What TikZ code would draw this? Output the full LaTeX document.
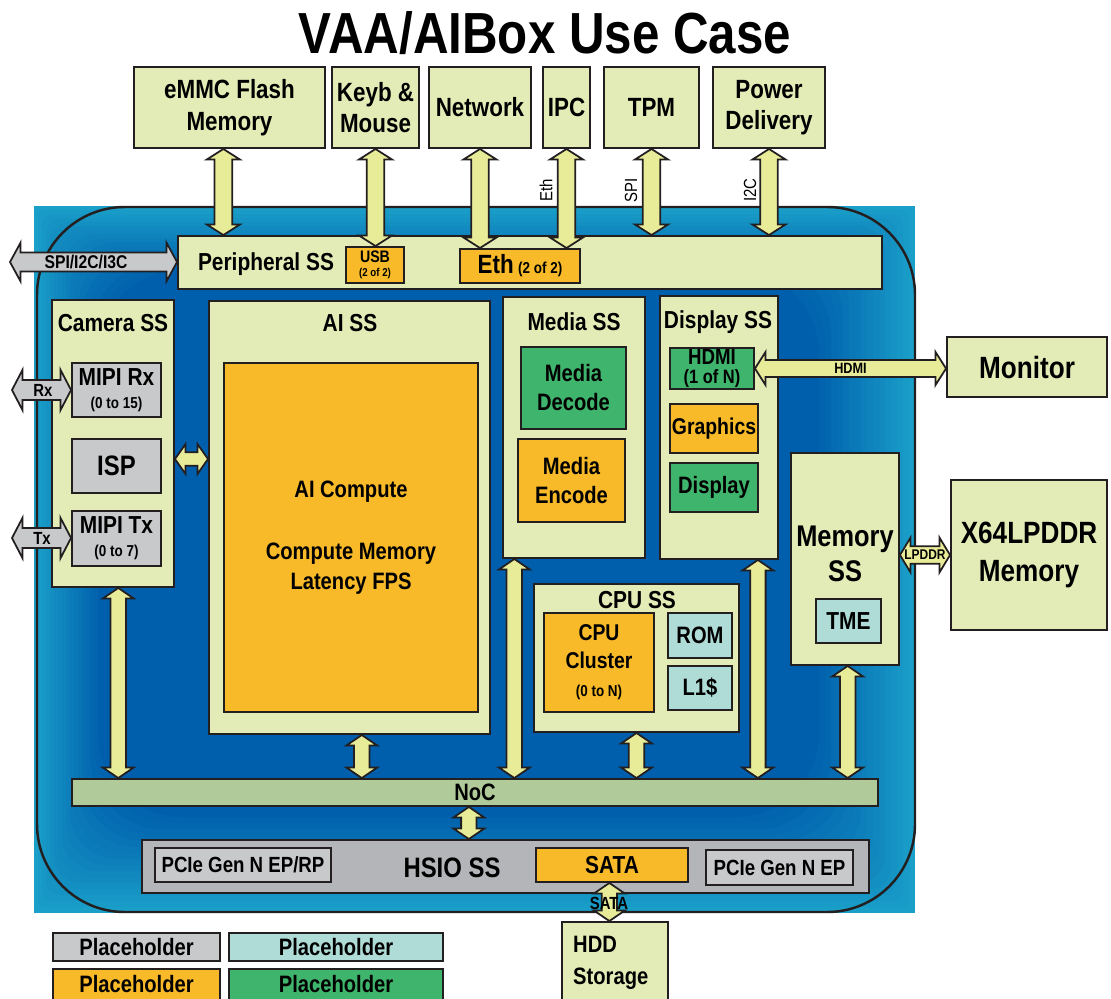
\documentclass[tikz,border=0pt]{standalone}
\usepackage{fontspec}
\setmainfont{Liberation Sans}[FakeStretch=0.85]
\usetikzlibrary{positioning,fit,calc}

\definecolor{boxfill}{HTML}{E3EBB6}
\definecolor{orangefill}{HTML}{F8BA28}
\definecolor{greenfill}{HTML}{3FB46C}
\definecolor{tealfill}{HTML}{AFDCD7}
\definecolor{grayfill}{HTML}{C8C9CB}
\definecolor{hsiofill}{HTML}{B4B5B8}
\definecolor{nocfill}{HTML}{B1CA99}
\definecolor{arrowfill}{HTML}{E8EC98}
\definecolor{edge}{HTML}{231F20}
\definecolor{blueIn}{HTML}{005FAD}
\definecolor{blueOut}{HTML}{1A9FC8}

% fat double arrow: [fill]{from}{to}{shaft half width}{head half width}
\newcommand\fatlink[5][arrowfill]{%
  \path let \p1=(#2), \p2=(#3) in \pgfextra{%
    \pgfmathsetmacro\fatlen{veclen(\x2-\x1,\y2-\y1)}%
    \pgfmathsetmacro\fatang{atan2(\y2-\y1,\x2-\x1)}%
    \xdef\fatlen{\fatlen}\xdef\fatang{\fatang}%
    \xdef\fatx{\x1}\xdef\faty{\y1}};
  \draw[fat, fill=#1, shift={(\fatx,\faty)}, rotate=\fatang]
    (0pt,0pt) -- (6pt,#5) -- (6pt,#4) -- (\fatlen pt-6pt,#4) -- (\fatlen pt-6pt,#5)
    -- (\fatlen pt,0pt) -- (\fatlen pt-6pt,-#5) -- (\fatlen pt-6pt,-#4)
    -- (6pt,-#4) -- (6pt,-#5) -- cycle;
}

\begin{document}
\begin{tikzpicture}[
  x=0.02cm, y=-0.02cm,
  fsz/.style 2 args={font=\bfseries\fontsize{#1}{#2}\selectfont, align=center},
  box/.style={draw=edge, line width=1.1pt, fill=boxfill, inner sep=0pt},
  orangebox/.style={box, fill=orangefill},
  greenbox/.style={box, fill=greenfill},
  tealbox/.style={box, fill=tealfill},
  graybox/.style={box, fill=grayfill},
  fat/.style={draw=edge, line width=1pt, line join=miter},
  arrlbl/.style={fsz={8.5}{9}, inner sep=0pt},
]
\useasboundingbox (0,0) rectangle (1111,998);

% Background (stepped gradient, cyan rim to deep blue)
\foreach \i in {0,...,16} {
  \pgfmathtruncatemacro\mixv{100-\i*100/16}
  \fill[blueOut!\mixv!blueIn, rounded corners=\i*3pt]
    (34+\i*4,206+\i*4) rectangle (915-\i*6,913-\i*6);
}
\draw[edge, line width=1.4pt, rounded corners=50pt] (37,207) rectangle (915,912);

% Title
\node[fsz={33}{33}] (title) at (545,33) {VAA/AIBox Use Case};

% External devices
\node[box, fit={(134,67) (325,148)}, label={[fsz={15}{18}]center:eMMC Flash\\Memory}] (emmc) {};
\node[box, fit={(332,67) (419,148)}, label={[fsz={15}{18}]center:Keyb \&\\Mouse}] (keyb) {};
\node[box, fit={(429,67) (531,148)}, label={[fsz={15}{18}]center:Network}] (net) {};
\node[box, fit={(543,67) (590,148)}, label={[fsz={15}{18}]center:IPC}] (ipc) {};
\node[box, fit={(604,67) (699,148)}, label={[fsz={15}{18}]center:TPM}] (tpm) {};
\node[box, fit={(713,67) (825,148)}, label={[fsz={15}{18}]center:Power\\Delivery}] (power) {};
\node[box, fit={(947,337) (1107,397)}, label={[fsz={17.5}{20}]center:Monitor}] (mon) {};
\node[box, fit={(951,480) (1107,630)}, label={[fsz={17.5}{21.5}]center:X64LPDDR\\Memory}] (x64) {};
\node[box, fit={(562,922) (668,1005)}] (hdd) {};
\node[fsz={13.5}{18.5}, align=left, anchor=west] (hddtxt) at (567,963) {HDD\\Storage};

% Peripheral SS
\node[box, fit={(178,236) (882,289)}] (periph) {};
\node[fsz={14}{14}] (periphlbl) at (266,264) {Peripheral SS};
\node[orangebox, fit={(346,247) (404,283)}, label={[fsz={9.5}{8}]center:USB\\{\fontsize{6.5}{7}\selectfont(2 of 2)}}] (usb) {};
\node[orangebox, fit={(460,249) (580,283)}, label={[fsz={15}{15}]center:Eth\,{\fontsize{9}{9}\selectfont(2 of 2)}}] (eth) {};

% Camera SS
\node[box, fit={(52,300) (174,587)}] (cam) {};
\node[fsz={14}{14}] (camlbl) at (113,323) {Camera SS};
\node[graybox, fit={(72,363) (161,417)}, label={[fsz={14}{13}]center:MIPI Rx\\{\fontsize{9}{9}\selectfont(0 to 15)}}] (mipirx) {};
\node[graybox, fit={(72,439) (161,493)}, label={[fsz={16}{16}]center:ISP}] (isp) {};
\node[graybox, fit={(72,511) (161,566)}, label={[fsz={14}{13}]center:MIPI Tx\\{\fontsize{9}{9}\selectfont(0 to 7)}}] (mipitx) {};

% AI SS
\node[box, fit={(209,301) (490,734)}] (ai) {};
\node[fsz={14}{14}] (ailbl) at (350,323) {AI SS};
\node[orangebox, fit={(224,363) (478,712)}, label={[fsz={13.5}{17}]center:AI Compute\\[18pt]Compute Memory\\Latency FPS}] (aic) {};

% Media SS
\node[box, fit={(503,297) (645,558)}] (media) {};
\node[fsz={14}{14}] (medialbl) at (574,322) {Media SS};
\node[greenbox, fit={(521,347) (626,429)}, label={[fsz={13.5}{16.5}]center:Media\\Decode}] (mdec) {};
\node[orangebox, fit={(518,439) (625,522)}, label={[fsz={13.5}{16.5}]center:Media\\Encode}] (menc) {};

% Display SS
\node[box, fit={(660,296) (778,559)}] (disp) {};
\node[fsz={14}{14}] (displbl) at (718,322) {Display SS};
\node[greenbox, fit={(670,348) (754,389)}, label={[fsz={12.5}{10.5}]center:HDMI\\{\fontsize{11}{11}\selectfont(1 of N)}}] (hdmi) {};
\node[orangebox, fit={(670,404) (758,453)}, label={[fsz={13}{13}]center:Graphics}] (gfx) {};
\node[greenbox, fit={(670,463) (758,512)}, label={[fsz={13.5}{13.5}]center:Display}] (dispblk) {};

% Memory SS
\node[box, fit={(791,453) (899,665)}] (memss) {};
\node[fsz={17}{20}] (memlbl) at (845,554) {Memory\\SS};
\node[tealbox, fit={(816,599) (881,643)}, label={[fsz={14}{14}]center:TME}] (tme) {};

% CPU SS
\node[box, fit={(534,584) (739,732)}] (cpu) {};
\node[fsz={14}{14}] (cpulbl) at (637,600) {CPU SS};
\node[orangebox, fit={(544,613) (654,712)}, label={[fsz={13}{16}]center:CPU\\Cluster\\{\fontsize{9}{9}\selectfont(0 to N)}}] (cpucl) {};
\node[tealbox, fit={(668,613) (732,658)}, label={[fsz={13.5}{13.5}]center:ROM}] (rom) {};
\node[tealbox, fit={(668,666) (732,710)}, label={[fsz={13.5}{13.5}]center:L1\$}] (lone) {};

% NoC and HSIO SS
\node[box, fill=nocfill, fit={(72,779) (878,806)}, label={[fsz={13.5}{13.5}]center:NoC}] (noc) {};
\node[box, fill=hsiofill, fit={(142,840) (869,893)}] (hsio) {};
\node[fsz={16}{16}] (hsiolbl) at (452,868) {HSIO SS};
\node[graybox, fit={(155,848) (331,882)}, label={[fsz={12.5}{12.5}]center:PCIe Gen N EP/RP}] (pcieA) {};
\node[orangebox, fit={(536,848) (688,882)}, label={[fsz={14}{14}]center:SATA}] (sata) {};
\node[graybox, fit={(706,850) (853,885)}, label={[fsz={12.5}{12.5}]center:PCIe Gen N EP}] (pcieB) {};

% Legend
\node[graybox, fit={(53,933) (220,961)}, label={[fsz={13.5}{13.5}]center:Placeholder}] (lgA) {};
\node[tealbox, fit={(229,933) (443,961)}, label={[fsz={13.5}{13.5}]center:Placeholder}] (lgB) {};
\node[orangebox, fit={(53,969) (220,1000)}, label={[fsz={13.5}{13.5}]center:Placeholder}] (lgC) {};
\node[greenbox, fit={(229,969) (443,1000)}, label={[fsz={13.5}{13.5}]center:Placeholder}] (lgD) {};

% Links to external devices
\fatlink{[xshift=-3.5pt]emmc.south}{[xshift=-3.5pt]emmc.south |- periph.north}{5pt}{9.4pt}
\fatlink{keyb.south}{keyb.south |- usb.north}{5pt}{9.4pt}
\fatlink{net.south}{net.south |- eth.north}{5pt}{9.4pt}
\fatlink{ipc.south}{ipc.south |- eth.north}{5pt}{9.4pt}
\fatlink{tpm.south}{tpm.south |- periph.north}{5pt}{9.4pt}
\fatlink{power.south}{power.south |- periph.north}{5pt}{9.4pt}
\node[rotate=90, font=\fontsize{10}{10}\selectfont] (ethlbl) at (546,190) {Eth};
\node[rotate=90, font=\fontsize{10}{10}\selectfont] (spilbl) at (631,190) {SPI};
\node[rotate=90, font=\fontsize{10}{10}\selectfont] (itcl) at (750,190) {I2C};

\coordinate (spiend) at (10,262);
\coordinate (rxend) at (12,390);
\coordinate (txend) at (12,538);
\fatlink[grayfill]{spiend}{spiend -| periph.west}{5.4pt}{11pt}
\fatlink[grayfill]{rxend}{rxend -| mipirx.west}{5.7pt}{11.5pt}
\fatlink[grayfill]{txend}{txend -| mipitx.west}{5.7pt}{11.5pt}
\node[fsz={10.5}{10.5}] (spilink) at (86,262) {SPI/I2C/I3C};
\node[fsz={10}{10}] (rxlink) at (43,390) {Rx};
\node[fsz={10}{10}] (txlink) at (42,538) {Tx};

\fatlink{hdmi.east}{hdmi.east -| mon.west}{4.8pt}{9.4pt}
\node[arrlbl] (hdmilink) at ($(hdmi.east)!0.5!(hdmi.east -| mon.west)$) {HDMI};
\fatlink{memss.east |- x64.west}{x64.west}{5pt}{9.9pt}
\node[fsz={8}{8}, inner sep=0pt] (lpddrlink) at ($(memss.east |- x64.west)!0.5!(x64.west)$) {LPDDR};

% Camera to AI
\coordinate (camai) at (191,459);
\fatlink{camai -| cam.east}{camai -| ai.west}{3.8pt}{8.5pt}

% Links to NoC
\fatlink{[xshift=3pt]cam.south}{[xshift=3pt]cam.south |- noc.north}{4.4pt}{8.8pt}
\fatlink{[xshift=7pt]ai.south}{[xshift=7pt]ai.south |- noc.north}{4.4pt}{8.8pt}
\fatlink{[xshift=7pt]media.south west}{[xshift=7pt]media.south west |- noc.north}{4.4pt}{8.8pt}
\fatlink{cpu.south}{cpu.south |- noc.north}{4.4pt}{8.8pt}
\fatlink{[xshift=-12pt]disp.south east}{[xshift=-12pt]disp.south east |- noc.north}{4.4pt}{8.8pt}
\fatlink{[xshift=1.5pt]memss.south}{[xshift=1.5pt]memss.south |- noc.north}{4.4pt}{8.8pt}
\fatlink{[xshift=-3.5pt]noc.south}{[xshift=-3.5pt]noc.south |- hsio.north}{4.4pt}{8.8pt}

% SATA to HDD
\fatlink{[xshift=-1.5pt]sata.south}{[xshift=-1.5pt]sata.south |- hdd.north}{4.4pt}{8.8pt}
\node[fsz={10}{10}, inner sep=0pt] (satalink) at (609,903) {SATA};
\end{tikzpicture}
\end{document}
